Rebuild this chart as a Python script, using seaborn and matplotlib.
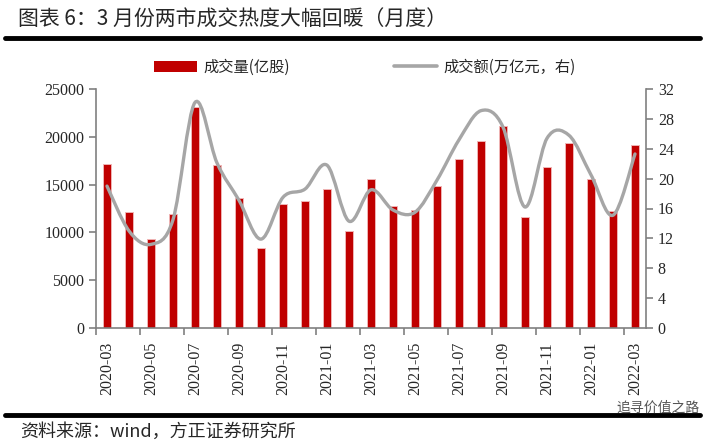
import numpy as np
import pandas as pd
import matplotlib
matplotlib.use("Agg")
import matplotlib.pyplot as plt
import seaborn as sns
from matplotlib.path import Path
from matplotlib.patches import PathPatch, Patch
from matplotlib.lines import Line2D

months = ['2020-03', '2020-04', '2020-05', '2020-06', '2020-07', '2020-08', '2020-09',
          '2020-10', '2020-11', '2020-12', '2021-01', '2021-02', '2021-03', '2021-04',
          '2021-05', '2021-06', '2021-07', '2021-08', '2021-09', '2021-10', '2021-11',
          '2021-12', '2022-01', '2022-02', '2022-03']
volume = [17200, 12100, 9300, 11900, 23100, 17000, 13600, 8400, 13000, 13300, 14500,
          10100, 15600, 12800, 12300, 14900, 17700, 19600, 21100, 11600, 16800, 19400,
          15600, 12200, 19100]
turnover = [19.0, 13.0, 11.2, 14.5, 30.2, 22.1, 17.1, 11.9, 17.5, 18.6, 21.8, 14.3,
            18.5, 15.8, 15.5, 19.8, 25.2, 29.1, 26.9, 16.2, 25.4, 25.8, 20.5, 15.1, 23.3]
vol_ticks = [0, 5000, 10000, 15000, 20000, 25000]
amt_ticks = [0, 4, 8, 12, 16, 20, 24, 28, 32]
title = "图表 6：3 月份两市成交热度大幅回暖（月度）"
source = "资料来源：wind，方正证券研究所"
legend_labels = ["成交量(亿股)", "成交额(万亿元，右)"]

sns.set_theme(style="ticks")
plt.rcParams['font.family'] = ['Liberation Serif', 'Noto Sans CJK SC', 'DejaVu Sans']
CJK = ['Noto Sans CJK SC', 'DejaVu Sans']
BAR = '#C00000'
GRAY = '#A6A6A6'
AXC = '#808080'

fig = plt.figure(figsize=(7.05, 4.47), dpi=100)
ax = fig.add_axes([96 / 705, 1 - 328 / 447, 550 / 705, 239 / 447])

df = pd.DataFrame({'month': months, 'volume': volume})
sns.barplot(data=df, x='month', y='volume', color=BAR, saturation=1, width=0.32,
            edgecolor='#EFB4B4', linewidth=0.7, ax=ax)
ax.set_xlim(-0.5, len(months) - 0.5)
ax.set_ylim(0, 25000)
ax.set_yticks(vol_ticks)
ax.set_xlabel('')
ax.set_ylabel('')
ax.set_xticks(range(0, len(months), 2))
ax.set_xticklabels(months[::2], rotation=90)
ax.set_xticks(np.arange(-0.5, len(months) - 1, 2), minor=True)
ax.tick_params(axis='x', which='major', length=0, labelsize=11.5, pad=10)
ax.tick_params(axis='x', which='minor', length=5, width=1.2, color=AXC, direction='out')
ax.tick_params(axis='y', length=5, width=1.2, color=AXC, labelsize=11.5, direction='out')
for s in ['top', 'right']:
    ax.spines[s].set_visible(False)
for s in ['left', 'bottom']:
    ax.spines[s].set_color(AXC)
    ax.spines[s].set_linewidth(1.2)

ax2 = ax.twinx()
ax2.set_ylim(0, 32)
ax2.set_yticks(amt_ticks)
ax2.tick_params(axis='y', length=5, width=1.2, color=AXC, labelsize=11.5, direction='out')
for s in ['top', 'left', 'bottom']:
    ax2.spines[s].set_visible(False)
ax2.spines['right'].set_color(AXC)
ax2.spines['right'].set_linewidth(1.2)

# smooth line (Bezier through the data points, like a spreadsheet "smoothed line")
pts = np.column_stack([np.arange(len(turnover), dtype=float), np.array(turnover, dtype=float)])
n = len(pts)
verts = [pts[0]]
codes = [Path.MOVETO]
for i in range(n - 1):
    p0 = pts[i - 1] if i > 0 else pts[i]
    p1 = pts[i]
    p2 = pts[i + 1]
    p3 = pts[i + 2] if i + 2 < n else pts[i + 1]
    verts += [p1 + (p2 - p0) / 6, p2 - (p3 - p1) / 6, p2]
    codes += [Path.CURVE4] * 3
ax2.add_patch(PathPatch(Path(verts, codes), fill=False, edgecolor=GRAY, lw=2.4,
                        capstyle='round', joinstyle='round', transform=ax2.transData))

handles = [Patch(facecolor=BAR, edgecolor='none'), Line2D([], [], color=GRAY, lw=2.6)]
leg = fig.legend(handles, legend_labels, loc='center left', bbox_to_anchor=(154 / 705, 1 - 67 / 447),
                 ncol=2, frameon=False, prop={'family': CJK, 'size': 11},
                 borderaxespad=0, borderpad=0,
                 handlelength=2.8, handleheight=0.7, columnspacing=6.8, handletextpad=0.45)

fig.text(18 / 705, 1 - 20 / 447, title, family=CJK, fontsize=15, va='center', ha='left')
fig.add_artist(Line2D([5 / 705, 700 / 705], [1 - 38 / 447] * 2, lw=3.5, color='black',
                      transform=fig.transFigure))
fig.add_artist(Line2D([5 / 705, 700 / 705], [1 - 415 / 447] * 2, lw=3.5, color='black',
                      transform=fig.transFigure))
fig.text(20 / 705, 1 - 432 / 447, source, family=CJK, fontsize=13, va='center', ha='left',
         style='italic')
fig.text(700 / 705, 1 - 408 / 447, "追寻价值之路", family=CJK, fontsize=10, va='center',
         ha='right', color='#555555')

fig.savefig('out.png', dpi=100)
